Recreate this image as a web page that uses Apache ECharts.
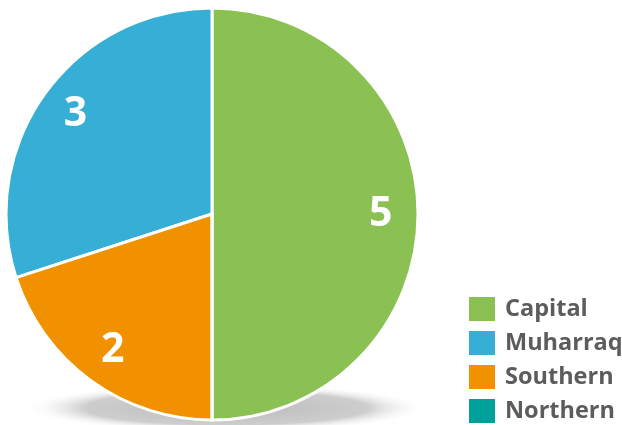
<!DOCTYPE html>
<html><head><meta charset="utf-8">
<script src="https://cdn.jsdelivr.net/npm/echarts@6/dist/echarts.min.js"></script>
<style>html,body{margin:0;padding:0;background:#fff}#c{width:622px;height:425px}</style>
</head><body><div id="c"></div>
<script>
const categories = ['Capital', 'Muharraq', 'Southern', 'Northern'];
const values = [5, 3, 2, 0];
const colors = ['#8BC152', '#36AED5', '#F29100', '#00A19A'];

const chart = echarts.init(document.getElementById('c'));
const data = categories.map((n, i) => ({ name: n, value: values[i], itemStyle: { color: colors[i] } }));
const center = [212, 214];
const R = 206;
chart.setOption({
  animation: false,
  graphic: [{
    type: 'circle', z: -10, silent: true,
    x: 226, y: 408, scaleX: 1, scaleY: 0.12,
    shape: { cx: 0, cy: 0, r: 202 },
    style: {
      fill: {
        type: 'radial', x: 0.5, y: 0.5, r: 0.5,
        colorStops: [
          { offset: 0, color: 'rgba(185,185,185,1)' },
          { offset: 0.7, color: 'rgba(200,200,200,0.9)' },
          { offset: 1, color: 'rgba(255,255,255,0)' }
        ]
      }
    }
  }],
  legend: {
    orient: 'vertical', left: 467, top: 295, padding: 0, height: 140,
    itemWidth: 28, itemHeight: 26, itemGap: 6,
    icon: 'rect',
    data: categories,
    textStyle: { fontFamily: 'Open Sans', fontWeight: 'bold', fontSize: 23.5, lineHeight: 26, color: '#5c5c5c', padding: [0, 0, 0, 4] }
  },
  series: [{
    type: 'pie', center: center, radius: [0, R], z: 2,
    startAngle: -90, clockwise: false,
    data: data,
    itemStyle: { borderColor: '#fff', borderWidth: 3 },
    label: { show: false }, labelLine: { show: false },
    emphasis: { disabled: true }
  }, {
    type: 'pie', center: center, radius: [R * 0.61, R], z: 3, silent: true,
    startAngle: -90, clockwise: false,
    data: data.map(d => ({ name: d.name, value: d.value, itemStyle: { color: 'rgba(0,0,0,0)' } })),
    itemStyle: { borderWidth: 0 },
    label: {
      show: true, position: 'inside',
      formatter: p => p.value ? String(p.value) : '',
      color: '#fff', fontFamily: 'Open Sans', fontWeight: 'bold', fontSize: 41
    },
    labelLine: { show: false },
    emphasis: { disabled: true }
  }]
});
</script></body></html>
